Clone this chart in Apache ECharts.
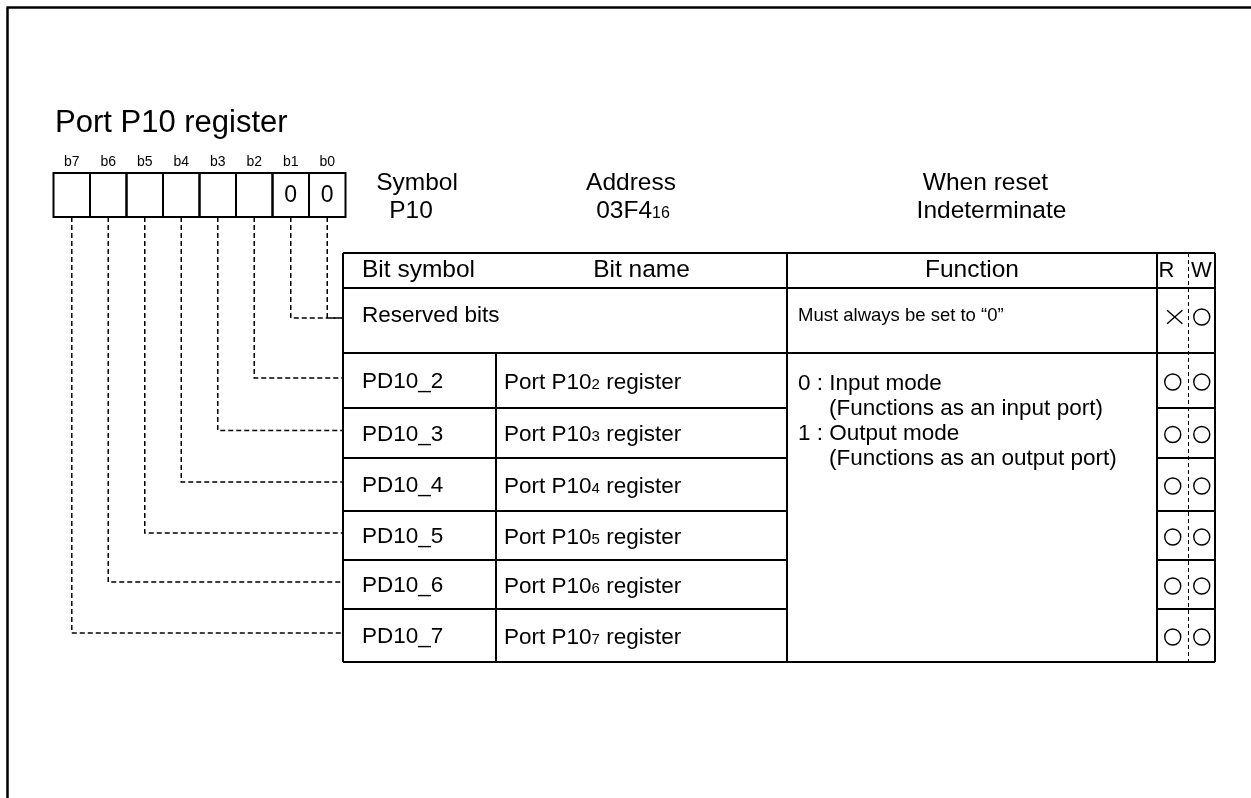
<!DOCTYPE html>
<html><head><meta charset="utf-8">
<script src="https://cdn.jsdelivr.net/npm/echarts@6/dist/echarts.min.js"></script>
<style>html,body{margin:0;padding:0;background:#fff}#c{width:1251px;height:798px}</style>
</head><body><div id="c"></div>
<script>
// ---------------- data ----------------
const registerTitle = 'Port P10 register';
const bitLabels = ['b7', 'b6', 'b5', 'b4', 'b3', 'b2', 'b1', 'b0'];
const bitValues = ['', '', '', '', '', '', '0', '0'];
const infoTitles = ['Symbol', 'Address', 'When reset'];
const infoValues = ['P10', '03F4', 'Indeterminate'];
const infoSubscripts = ['', '16', ''];
const headerLabels = ['Bit symbol', 'Bit name', 'Function', 'R', 'W'];
const reservedName = 'Reserved bits';
const reservedFunction = 'Must always be set to “0”';
const reservedAccess = ['X', 'O'];
const bitSymbols = ['PD10_2', 'PD10_3', 'PD10_4', 'PD10_5', 'PD10_6', 'PD10_7'];
const bitNamePrefix = 'Port P10';
const bitNameSubscripts = ['2', '3', '4', '5', '6', '7'];
const bitNameSuffix = ' register';
const bitRead = ['O', 'O', 'O', 'O', 'O', 'O'];
const bitWrite = ['O', 'O', 'O', 'O', 'O', 'O'];
const functionLines = ['0 : Input mode', '(Functions as an input port)', '1 : Output mode', '(Functions as an output port)'];
const functionIndented = [false, true, false, true];

// ---------------- layout & style ----------------
const W = 1251, H = 798;
const FONT = '"Liberation Sans", Arial, Helvetica, sans-serif';
const INK = '#000';
const L = {
  frame: { left: 7.5, top: 7.5, width: 2.5 },
  title: { x: 55, y: 123.5, size: 31 },
  reg: { x0: 53.5, x1: 345.5, y0: 173, y1: 217, labelY: 162, labelSize: 14, valueY: 196, valueSize: 23, lineWidth: 2 },
  info: { titleXs: [417, 631, 985.5], valueXs: [411, 633, 991.5], titleY: 183.5, valueY: 210, size: 24.5, subSize: 16 },
  table: {
    x0: 343, xSym: 496, xName: 787, xR: 1157, xW: 1188.5, x1: 1215,
    rowEdges: [253, 288, 353, 408, 458, 511, 560, 609, 662],
    lineWidth: 2, headSize: 24.5, rwSize: 22, textSize: 22.5, smallSize: 18.5, subSize: 15,
    headX: [{ x: 362, align: 'left' }, { x: 641.5, align: 'center' }, { x: 972, align: 'center' }, { x: 1166.5, align: 'center' }, { x: 1201.5, align: 'center' }],
    padSym: 19, padName: 8, padFunc: 11, funcIndent: 31, funcTop: 384, funcStep: 25, textShift: 1.5, reservedY: 316,
    markR: 8, markLW: 1.4, markShift: 1.5, rwDash: [4, 3]
  },
  link: { dash: [5, 3], width: 1.5, yShift: -2.5 },
  subRaise: 2
};
const rows = L.table.rowEdges;
function rowMid(k) { return (rows[k + 1] + rows[k + 2]) / 2; }
const firstBitRow = parseInt(bitSymbols[0].split('_')[1], 10);

// ---------------- helpers ----------------
function txt(api, x, y, text, size, align) {
  const p = api.coord([x, y]);
  return { type: 'text', x: p[0], y: p[1], style: { text: text, fill: INK, fontSize: size, fontFamily: FONT, align: align || 'left', verticalAlign: 'middle' } };
}
function subTxt(api, x, y, main, sub, tail, size, subSize, align) {
  const tokens = [];
  if (main) tokens.push('{m|' + main + '}');
  if (sub) tokens.push('{s|' + sub + '}');
  if (tail) tokens.push('{m|' + tail + '}');
  const lhm = size + 2;
  const p = api.coord([x, y]);
  return {
    type: 'text', x: p[0], y: p[1],
    style: {
      text: tokens.join(''), fill: INK, fontSize: size, fontFamily: FONT, align: align || 'left', verticalAlign: 'middle',
      rich: {
        m: { fontSize: size, fontFamily: FONT, fill: INK, lineHeight: lhm, verticalAlign: 'bottom' },
        s: { fontSize: subSize, fontFamily: FONT, fill: INK, lineHeight: lhm - 4, verticalAlign: 'bottom', padding: [0, 0, L.subRaise, 0] }
      }
    }
  };
}
function seg(api, x1, y1, x2, y2, w, dash) {
  const a = api.coord([x1, y1]), b = api.coord([x2, y2]);
  return { type: 'line', shape: { x1: a[0], y1: a[1], x2: b[0], y2: b[1] }, style: { stroke: INK, lineWidth: w, lineDash: dash || null, fill: 'none' } };
}
function mark(api, kind, cx, cy) {
  const T = L.table;
  const c = api.coord([cx, cy]);
  if (kind === 'O') {
    return { type: 'circle', shape: { cx: c[0], cy: c[1], r: T.markR }, style: { fill: 'none', stroke: INK, lineWidth: T.markLW } };
  }
  const hw = T.markR * 0.95, hh = T.markR * 0.85;
  return { type: 'group', children: [
    { type: 'line', shape: { x1: c[0] - hw, y1: c[1] - hh, x2: c[0] + hw, y2: c[1] + hh }, style: { stroke: INK, lineWidth: T.markLW } },
    { type: 'line', shape: { x1: c[0] - hw, y1: c[1] + hh, x2: c[0] + hw, y2: c[1] - hh }, style: { stroke: INK, lineWidth: T.markLW } }
  ] };
}
function custom(name, data, renderItem) {
  return { name: name, type: 'custom', coordinateSystem: 'cartesian2d', data: data, renderItem: renderItem, silent: true, clip: false, animation: false };
}
const colR = (L.table.xR + L.table.xW) / 2, colW = (L.table.xW + L.table.x1) / 2;

// ---------------- series ----------------
const series = [
  custom('frame', [[0, 0]], function (params, api) {
    const F = L.frame;
    return { type: 'group', children: [
      seg(api, F.left - 1, F.top, W, F.top, F.width),
      seg(api, F.left, F.top, F.left, H, F.width)
    ] };
  }),
  custom('title', [[0, 0]], function (params, api) {
    return txt(api, L.title.x, L.title.y, registerTitle, L.title.size, 'left');
  }),
  custom('bits', bitLabels.map(function (b, i) { return [i, 0]; }), function (params, api) {
    const i = params.dataIndex, R = L.reg;
    const cw = (R.x1 - R.x0) / bitLabels.length;
    const cx0 = R.x0 + i * cw, cmid = cx0 + cw / 2;
    const a = api.coord([cx0, R.y0]), b = api.coord([cx0 + cw, R.y1]);
    const bitNo = bitLabels.length - 1 - i;
    const row = bitNo >= firstBitRow ? bitNo - firstBitRow + 1 : 0;
    const ly = rowMid(row) + L.link.yShift;
    const p1 = api.coord([cmid, R.y1]), p2 = api.coord([cmid, ly]), p3 = api.coord([L.table.x0, ly]);
    return { type: 'group', children: [
      { type: 'polyline', shape: { points: [p1, p2, p3] }, style: { fill: 'none', stroke: INK, lineWidth: L.link.width, lineDash: L.link.dash } },
      { type: 'rect', shape: { x: a[0], y: a[1], width: b[0] - a[0], height: b[1] - a[1] }, style: { fill: 'none', stroke: INK, lineWidth: R.lineWidth } },
      txt(api, cmid, R.labelY, bitLabels[i], R.labelSize, 'center'),
      txt(api, cmid, R.valueY, bitValues[i], R.valueSize, 'center')
    ] };
  }),
  custom('info', infoTitles.map(function (t, i) { return [i, 0]; }), function (params, api) {
    const i = params.dataIndex, I = L.info;
    return { type: 'group', children: [
      txt(api, I.titleXs[i], I.titleY, infoTitles[i], I.size, 'center'),
      subTxt(api, I.valueXs[i], I.valueY, infoValues[i], infoSubscripts[i], '', I.size, I.subSize, 'center')
    ] };
  }),
  custom('grid', [[0, 0]], function (params, api) {
    const T = L.table, lw = T.lineWidth, top = rows[0], bot = rows[rows.length - 1];
    return { type: 'group', children: [
      seg(api, T.x0, top, T.x1, top, lw),
      seg(api, T.x0, bot, T.x1, bot, lw),
      seg(api, T.x0, top, T.x0, bot, lw),
      seg(api, T.x1, top, T.x1, bot, lw),
      seg(api, T.x0, rows[1], T.x1, rows[1], lw),
      seg(api, T.x0, rows[2], T.x1, rows[2], lw),
      seg(api, T.xName, top, T.xName, bot, lw),
      seg(api, T.xR, top, T.xR, bot, lw),
      seg(api, T.xSym, rows[2], T.xSym, bot, lw),
      seg(api, T.xW, top, T.xW, bot, 1, T.rwDash)
    ] };
  }),
  custom('header', headerLabels.map(function (h, i) { return [i, 0]; }), function (params, api) {
    const i = params.dataIndex, T = L.table;
    const size = i >= 3 ? T.rwSize : T.headSize;
    return txt(api, T.headX[i].x, (rows[0] + rows[1]) / 2, headerLabels[i], size, T.headX[i].align);
  }),
  custom('reserved', [[0, 0]], function (params, api) {
    const T = L.table;
    return { type: 'group', children: [
      txt(api, T.x0 + T.padSym, T.reservedY, reservedName, T.textSize, 'left'),
      txt(api, T.xName + T.padFunc, T.reservedY, reservedFunction, T.smallSize, 'left'),
      mark(api, reservedAccess[0], colR + 2, T.reservedY + 1),
      mark(api, reservedAccess[1], colW, T.reservedY + 1)
    ] };
  }),
  custom('bitRows', bitSymbols.map(function (s, i) { return [i, 0]; }), function (params, api) {
    const i = params.dataIndex, T = L.table, k = i + 1;
    const y = rowMid(k) + T.textShift, yb = rows[k + 2];
    const ch = [
      txt(api, T.x0 + T.padSym, y, bitSymbols[i], T.textSize, 'left'),
      subTxt(api, T.xSym + T.padName, y, bitNamePrefix, bitNameSubscripts[i], bitNameSuffix, T.textSize, T.subSize, 'left'),
      mark(api, bitRead[i], colR, rowMid(k) + T.markShift),
      mark(api, bitWrite[i], colW, rowMid(k) + T.markShift)
    ];
    if (i < bitSymbols.length - 1) {
      ch.push(seg(api, T.x0, yb, T.xName, yb, T.lineWidth));
      ch.push(seg(api, T.xR, yb, T.x1, yb, T.lineWidth));
    }
    return { type: 'group', children: ch };
  }),
  custom('function', functionLines.map(function (s, i) { return [i, 0]; }), function (params, api) {
    const i = params.dataIndex, T = L.table;
    const x = T.xName + T.padFunc + (functionIndented[i] ? T.funcIndent : 0);
    return txt(api, x, T.funcTop + i * T.funcStep, functionLines[i], T.textSize, 'left');
  })
];

const chart = echarts.init(document.getElementById('c'), null, { renderer: 'canvas' });
chart.setOption({
  animation: false,
  backgroundColor: '#fff',
  grid: { left: 0, right: 0, top: 0, bottom: 0 },
  xAxis: { type: 'value', min: 0, max: W, show: false },
  yAxis: { type: 'value', min: 0, max: H, inverse: true, show: false },
  tooltip: { show: false },
  series: series
});
</script>
</body></html>
